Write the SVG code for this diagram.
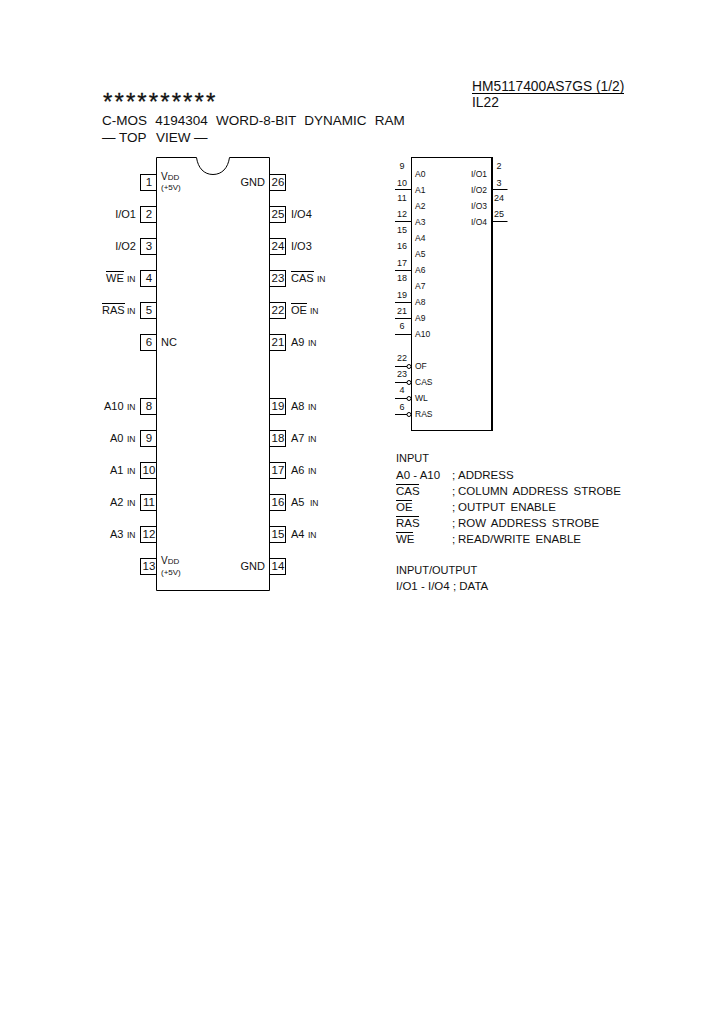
<svg xmlns="http://www.w3.org/2000/svg" width="720" height="1012" viewBox="0 0 720 1012">
<style>
text{font-family:"Liberation Sans",Arial,sans-serif;fill:#111}
.b{fill:#fff;stroke:#000;stroke-width:1}
.l{stroke:#000;stroke-width:1;fill:none}
.n{font-size:11.5px;text-anchor:middle}
.t{font-size:11px}
.e{text-anchor:end}
.i{font-size:8.500px}
.s{font-size:8.500px}
.g{font-size:9px;text-anchor:middle}
.h{font-size:11.500px;word-spacing:2.200px}
</style>
<rect width="720" height="1012" fill="#fff"/>
<g id="title">
<text x="103" y="110" font-size="24" letter-spacing="2.100" stroke="#111" stroke-width="0.300">**********</text>
<text x="102" y="125" font-size="13.500" style="word-spacing:4.500px">C-MOS 4194304 WORD-8-BIT DYNAMIC RAM</text>
<text y="142" font-size="13.500"><tspan x="102">—</tspan><tspan x="119">TOP</tspan><tspan x="156">VIEW</tspan><tspan x="194">—</tspan></text>
<text x="472" y="91" font-size="13.800">HM5117400AS7GS (1/2)</text>
<line class="l" x1="472" y1="93.500" x2="624" y2="93.500"/>
<text x="472" y="107" font-size="13.800">IL22</text>
</g>
<g id="chip">
<path class="b" d="M156.500 157.500H196.500C198 168 204 174.500 213 174.500C222 174.500 228 168 229.500 157.500H269.500V590.500H156.500Z"/>
</g>
<g id="pin1"><rect class="b" x="140.500" y="174.500" width="16" height="16"/><text class="n" x="149" y="186">1</text><text x="161" y="180" font-size="10">V<tspan font-size="8">DD</tspan></text><text x="161" y="190" font-size="8">(+5V)</text></g>
<g id="pin2"><rect class="b" x="140.500" y="206.500" width="16" height="16"/><text class="n" x="149" y="218">2</text><text class="t e" x="136" y="218">I/O1</text></g>
<g id="pin3"><rect class="b" x="140.500" y="238.500" width="16" height="16"/><text class="n" x="149" y="250">3</text><text class="t e" x="136" y="250">I/O2</text></g>
<g id="pin4"><rect class="b" x="140.500" y="270.500" width="16" height="16"/><text class="n" x="149" y="282">4</text><text class="t" x="106" y="282">WE</text><text class="i" x="127" y="282">IN</text><line class="l" x1="106" y1="271.500" x2="124" y2="271.500"/></g>
<g id="pin5"><rect class="b" x="140.500" y="302.500" width="16" height="16"/><text class="n" x="149" y="314">5</text><text class="t" x="102" y="314">RAS</text><text class="i" x="127" y="314">IN</text><line class="l" x1="102" y1="303.500" x2="125" y2="303.500"/></g>
<g id="pin6"><rect class="b" x="140.500" y="334.500" width="16" height="16"/><text class="n" x="149" y="346">6</text><text class="t" x="161" y="346">NC</text></g>
<g id="pin8"><rect class="b" x="140.500" y="398.500" width="16" height="16"/><text class="n" x="149" y="410">8</text><text class="t" x="104" y="410">A10</text><text class="i" x="127" y="410">IN</text></g>
<g id="pin9"><rect class="b" x="140.500" y="430.500" width="16" height="16"/><text class="n" x="149" y="442">9</text><text class="t" x="110" y="442">A0</text><text class="i" x="127" y="442">IN</text></g>
<g id="pin10"><rect class="b" x="140.500" y="462.500" width="16" height="16"/><text class="n" x="149" y="474">10</text><text class="t" x="110" y="474">A1</text><text class="i" x="127" y="474">IN</text></g>
<g id="pin11"><rect class="b" x="140.500" y="494.500" width="16" height="16"/><text class="n" x="149" y="506">11</text><text class="t" x="110" y="506">A2</text><text class="i" x="127" y="506">IN</text></g>
<g id="pin12"><rect class="b" x="140.500" y="526.500" width="16" height="16"/><text class="n" x="149" y="538">12</text><text class="t" x="110" y="538">A3</text><text class="i" x="127" y="538">IN</text></g>
<g id="pin13"><rect class="b" x="140.500" y="558.500" width="16" height="16"/><text class="n" x="149" y="570">13</text><text x="161" y="564" font-size="10">V<tspan font-size="8">DD</tspan></text><text x="161" y="575" font-size="8">(+5V)</text></g>
<g id="pin26"><rect class="b" x="269.500" y="174.500" width="16" height="16"/><text class="n" x="278" y="186">26</text><text class="t e" x="265" y="186">GND</text></g>
<g id="pin25"><rect class="b" x="269.500" y="206.500" width="16" height="16"/><text class="n" x="278" y="218">25</text><text class="t" x="291" y="218">I/O4</text></g>
<g id="pin24"><rect class="b" x="269.500" y="238.500" width="16" height="16"/><text class="n" x="278" y="250">24</text><text class="t" x="291" y="250">I/O3</text></g>
<g id="pin23"><rect class="b" x="269.500" y="270.500" width="16" height="16"/><text class="n" x="278" y="282">23</text><text class="t" x="291" y="282">CAS</text><text class="i" x="317" y="282">IN</text><line class="l" x1="291" y1="271.500" x2="314" y2="271.500"/></g>
<g id="pin22"><rect class="b" x="269.500" y="302.500" width="16" height="16"/><text class="n" x="278" y="314">22</text><text class="t" x="291" y="314">OE</text><text class="i" x="310" y="314">IN</text><line class="l" x1="291" y1="303.500" x2="307" y2="303.500"/></g>
<g id="pin21"><rect class="b" x="269.500" y="334.500" width="16" height="16"/><text class="n" x="278" y="346">21</text><text class="t" x="291" y="346">A9</text><text class="i" x="308" y="346">IN</text></g>
<g id="pin19"><rect class="b" x="269.500" y="398.500" width="16" height="16"/><text class="n" x="278" y="410">19</text><text class="t" x="291" y="410">A8</text><text class="i" x="308" y="410">IN</text></g>
<g id="pin18"><rect class="b" x="269.500" y="430.500" width="16" height="16"/><text class="n" x="278" y="442">18</text><text class="t" x="291" y="442">A7</text><text class="i" x="308" y="442">IN</text></g>
<g id="pin17"><rect class="b" x="269.500" y="462.500" width="16" height="16"/><text class="n" x="278" y="474">17</text><text class="t" x="291" y="474">A6</text><text class="i" x="308" y="474">IN</text></g>
<g id="pin16"><rect class="b" x="269.500" y="494.500" width="16" height="16"/><text class="n" x="278" y="506">16</text><text class="t" x="291" y="506">A5</text><text class="i" x="310" y="506">IN</text></g>
<g id="pin15"><rect class="b" x="269.500" y="526.500" width="16" height="16"/><text class="n" x="278" y="538">15</text><text class="t" x="291" y="538">A4</text><text class="i" x="308" y="538">IN</text></g>
<g id="pin14"><rect class="b" x="269.500" y="558.500" width="16" height="16"/><text class="n" x="278" y="570">14</text><text class="t e" x="265" y="570">GND</text></g>
<g id="connectors">
<path class="l" d="M395 189.500H411M395 221.500H411M395 270.500H411M395 302.500H411M395 318.500H411M395 334.500H411M395 366.500H407M395 382.500H407M395 398.500H407M395 414.500H407M492 189.500H507.500M492 221.500H507.500"/>
<circle class="b" cx="409" cy="366.500" r="2"/><circle class="b" cx="409" cy="382.500" r="2"/><circle class="b" cx="409" cy="398.500" r="2"/><circle class="b" cx="409" cy="414.500" r="2"/>
</g>
<g id="symbol">
<rect class="b" x="411.500" y="157.500" width="80.500" height="273"/>
<line x1="492" y1="157" x2="492" y2="431" stroke="#000" stroke-width="2"/>
<text class="s" x="415" y="177">A0</text><text class="s" x="415" y="193">A1</text><text class="s" x="415" y="209">A2</text><text class="s" x="415" y="225">A3</text><text class="s" x="415" y="241">A4</text><text class="s" x="415" y="257">A5</text><text class="s" x="415" y="273">A6</text><text class="s" x="415" y="289">A7</text><text class="s" x="415" y="305">A8</text><text class="s" x="415" y="321">A9</text><text class="s" x="415" y="337">A10</text>
<text class="s" x="415" y="369">OF</text><text class="s" x="415" y="385">CAS</text><text class="s" x="415" y="401">WL</text><text class="s" x="415" y="417">RAS</text>
<text class="s" x="471" y="177">I/O1</text><text class="s" x="471" y="193">I/O2</text><text class="s" x="471" y="209">I/O3</text><text class="s" x="471" y="225">I/O4</text>
<text class="g" x="402" y="169">9</text><text class="g" x="402" y="186">10</text><text class="g" x="402" y="201">11</text><text class="g" x="402" y="217">12</text><text class="g" x="402" y="233">15</text><text class="g" x="402" y="249">16</text><text class="g" x="402" y="266">17</text><text class="g" x="402" y="281">18</text><text class="g" x="402" y="298">19</text><text class="g" x="402" y="314">21</text><text class="g" x="402" y="329">6</text><text class="g" x="402" y="361">22</text><text class="g" x="402" y="377">23</text><text class="g" x="402" y="393">4</text><text class="g" x="402" y="410">6</text>
<text class="g" x="499" y="169">2</text><text class="g" x="499" y="186">3</text><text class="g" x="499" y="201">24</text><text class="g" x="499" y="217">25</text>
</g>
<g id="legend">
<text class="t" x="396" y="462">INPUT</text>
<text class="h" x="396" y="478.500" style="word-spacing:0">A0 - A10</text><text class="h" x="452" y="478.500">;</text><text class="h" x="458" y="478.500">ADDRESS</text>
<text class="h" x="396" y="494.500">CAS</text><line class="l" x1="396" y1="484.500" x2="419" y2="484.500"/><text class="h" x="452" y="494.500">;</text><text class="h" x="458" y="494.500">COLUMN ADDRESS STROBE</text>
<text class="h" x="396" y="510.500">OE</text><line class="l" x1="396" y1="500.500" x2="412" y2="500.500"/><text class="h" x="452" y="510.500">;</text><text class="h" x="458" y="510.500">OUTPUT ENABLE</text>
<text class="h" x="396" y="526.500">RAS</text><line class="l" x1="396" y1="516.500" x2="419" y2="516.500"/><text class="h" x="452" y="526.500">;</text><text class="h" x="458" y="526.500">ROW ADDRESS STROBE</text>
<text class="h" x="396" y="542.500">WE</text><line class="l" x1="396" y1="532.500" x2="413" y2="532.500"/><text class="h" x="452" y="542.500">;</text><text class="h" x="458" y="542.500">READ/WRITE ENABLE</text>
<text class="t" x="396" y="574">INPUT/OUTPUT</text>
<text class="h" x="396" y="590" style="word-spacing:0">I/O1 - I/O4 ; DATA</text>
</g>
</svg>
